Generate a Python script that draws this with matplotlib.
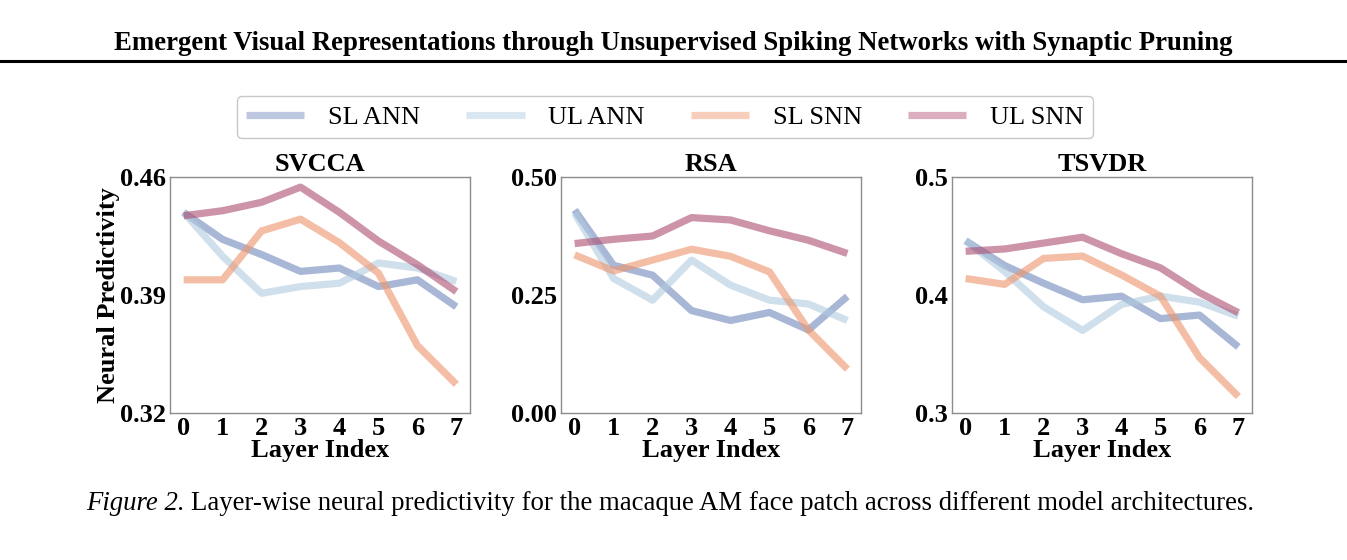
import numpy as np
import matplotlib
matplotlib.use("Agg")
import matplotlib.pyplot as plt

plt.rcParams["font.family"] = ["Liberation Serif", "DejaVu Serif"]

layers = [0, 1, 2, 3, 4, 5, 6, 7]
models = ["SL ANN", "UL ANN", "SL SNN", "UL SNN"]
colors = ["#7087bb", "#afcbdf", "#ee946b", "#ad4d70"]

# values
svcca_sl_ann = [0.439, 0.423, 0.414, 0.404, 0.406, 0.395, 0.399, 0.383]
svcca_ul_ann = [0.439, 0.413, 0.391, 0.395, 0.397, 0.409, 0.406, 0.398]
svcca_sl_snn = [0.399, 0.399, 0.428, 0.435, 0.421, 0.403, 0.360, 0.337]
svcca_ul_snn = [0.437, 0.440, 0.445, 0.454, 0.439, 0.422, 0.408, 0.392]

rsa_sl_ann = [0.430, 0.313, 0.292, 0.217, 0.196, 0.213, 0.176, 0.247]
rsa_ul_ann = [0.423, 0.285, 0.239, 0.324, 0.271, 0.239, 0.231, 0.196]
rsa_sl_snn = [0.335, 0.301, 0.324, 0.347, 0.332, 0.299, 0.176, 0.093]
rsa_ul_snn = [0.359, 0.368, 0.375, 0.414, 0.409, 0.386, 0.366, 0.338]

tsvdr_sl_ann = [0.446, 0.425, 0.410, 0.396, 0.399, 0.380, 0.383, 0.356]
tsvdr_ul_ann = [0.446, 0.420, 0.390, 0.370, 0.392, 0.399, 0.394, 0.382]
tsvdr_sl_snn = [0.414, 0.409, 0.431, 0.433, 0.417, 0.399, 0.347, 0.314]
tsvdr_ul_snn = [0.437, 0.439, 0.444, 0.449, 0.435, 0.423, 0.402, 0.385]

panels = [
    ("SVCCA", [svcca_sl_ann, svcca_ul_ann, svcca_sl_snn, svcca_ul_snn], (0.32, 0.46), [0.32, 0.39, 0.46], ["0.32", "0.39", "0.46"]),
    ("RSA", [rsa_sl_ann, rsa_ul_ann, rsa_sl_snn, rsa_ul_snn], (0.0, 0.5), [0.0, 0.25, 0.5], ["0.00", "0.25", "0.50"]),
    ("TSVDR", [tsvdr_sl_ann, tsvdr_ul_ann, tsvdr_sl_snn, tsvdr_ul_snn], (0.3, 0.5), [0.3, 0.4, 0.5], ["0.3", "0.4", "0.5"]),
]

W, H = 1347, 560
fig = plt.figure(figsize=(W / 100, H / 100), dpi=100)

# page header
fig.text(0.5, 1 - 43 / H, "Emergent Visual Representations through Unsupervised Spiking Networks with Synaptic Pruning",
         ha="center", va="center", fontsize=19.3, fontweight="bold")
fig.add_artist(plt.Line2D([0, 1], [1 - 61 / H, 1 - 61 / H], color="black", lw=2.2, transform=fig.transFigure))

lefts = [170, 561, 952]
axes = []
for (name, series, ylim, yticks, ylabels), left in zip(panels, lefts):
    ax = fig.add_axes([left / W, (H - 413) / H, 300 / W, 236 / H])
    for vals, c, m in zip(series, colors, models):
        ax.plot(layers, vals, color=c, alpha=0.6, lw=5.2, label=m, solid_capstyle="butt")
    ax.set_xlim(-0.35, 7.35)
    ax.set_ylim(*ylim)
    ax.set_yticks(yticks)
    ax.set_yticklabels(ylabels)
    ax.set_xticks(layers)
    ax.tick_params(length=0, labelsize=19, pad=3)
    for lab in ax.get_xticklabels() + ax.get_yticklabels():
        lab.set_fontweight("bold")
    for s in ax.spines.values():
        s.set_color("#8c8c8c")
        s.set_linewidth(1)
    ax.set_title(name, fontsize=19, fontweight="bold", pad=4)
    ax.set_xlabel("Layer Index", fontsize=19, fontweight="bold", labelpad=-1)
    axes.append(ax)

axes[0].set_ylabel("Neural Predictivity", fontsize=19, fontweight="bold", labelpad=0)

handles, labels = axes[0].get_legend_handles_labels()
leg = fig.legend(handles, labels, loc="center", bbox_to_anchor=(665 / W, 1 - 117 / H), ncol=4,
                 fontsize=19, frameon=True, handlelength=2.2, handletextpad=0.9, columnspacing=1.75,
                 edgecolor="#bbbbbb", fancybox=True, borderpad=0.35)
for h in leg.get_lines():
    h.set_alpha(0.45)

# caption with italic figure number
cap_y = 1 - 503 / H
t1 = fig.text(86 / W, cap_y, "Figure 2.", ha="left", va="center", fontsize=19.3, style="italic")
fig.canvas.draw()
bb = t1.get_window_extent()
fig.text((bb.x1 + 6) / W, cap_y,
         "Layer-wise neural predictivity for the macaque AM face patch across different model architectures.",
         ha="left", va="center", fontsize=19.3)

fig.savefig("out.png", dpi=100)
